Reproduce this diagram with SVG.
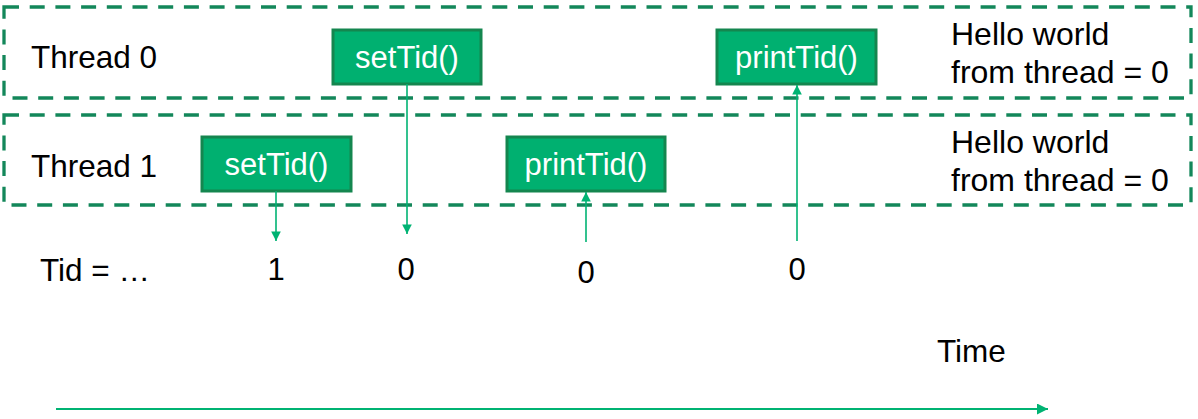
<svg xmlns="http://www.w3.org/2000/svg" width="1198" height="419" viewBox="0 0 1198 419">
<defs>
<style>
.lane{fill:none;stroke:#13875a;stroke-width:3.3;stroke-dasharray:15 10.7}
.box{fill:#00b070;stroke:#14864f;stroke-width:3}
.bt{font-family:"Liberation Sans",Arial,sans-serif;font-size:31px;fill:#ffffff;text-anchor:middle}
.t{font-family:"Liberation Sans",Arial,sans-serif;font-size:31.5px;fill:#000000}
.h{font-family:"Liberation Sans",Arial,sans-serif;font-size:32px;fill:#000000}
.v{font-family:"Liberation Sans",Arial,sans-serif;font-size:31px;fill:#000000;text-anchor:middle}
.c{fill:none;stroke:#00b373;stroke-width:1.6}
</style>
<marker id="ah" viewBox="0 0 10 10" refX="10" refY="5" markerWidth="6" markerHeight="6" markerUnits="strokeWidth" orient="auto">
<path d="M0,0 L10,5 L0,10 z" fill="#00b373"/>
</marker>
<marker id="ah2" viewBox="0 0 10 10" refX="10" refY="5" markerWidth="5" markerHeight="5" markerUnits="strokeWidth" orient="auto">
<path d="M0,0 L10,5 L0,10 z" fill="#00b373"/>
</marker>
</defs>
<g id="lane0">
<rect class="lane" x="4" y="7" width="1187" height="91"/>
<text class="t" x="31" y="68">Thread 0</text>
<text class="h" x="951" y="45">Hello world</text>
<text class="h" x="951" y="83">from thread = 0</text>
</g>
<g id="lane1">
<rect class="lane" x="4" y="115" width="1187" height="90"/>
<text class="t" x="31" y="177">Thread 1</text>
<text class="h" x="951" y="153">Hello world</text>
<text class="h" x="951" y="191">from thread = 0</text>
</g>
<g id="setTid0">
<rect class="box" x="333" y="30" width="148" height="54"/>
<text class="bt" x="407" y="68">setTid()</text>
</g>
<g id="setTid1">
<rect class="box" x="202" y="137" width="149" height="54"/>
<text class="bt" x="276.5" y="175">setTid()</text>
</g>
<g id="printTid1">
<rect class="box" x="507" y="137" width="158" height="54"/>
<text class="bt" x="586" y="175">printTid()</text>
</g>
<g id="printTid0">
<rect class="box" x="717" y="30" width="159" height="54"/>
<text class="bt" x="796.5" y="68">printTid()</text>
</g>
<g id="values">
<text class="t" x="40" y="281">Tid = …</text>
<text class="v" x="276" y="280">1</text>
<text class="v" x="406" y="280">0</text>
<text class="v" x="586" y="283">0</text>
<text class="v" x="797" y="280">0</text>
<text class="t" x="937" y="362">Time</text>
</g>
<g id="connectors">
<line class="c" x1="276" y1="191" x2="276" y2="241" marker-end="url(#ah)"/>
<line class="c" x1="407" y1="84" x2="407" y2="234" marker-end="url(#ah)"/>
<line class="c" x1="586" y1="242" x2="586" y2="192" marker-end="url(#ah)"/>
<line class="c" x1="797" y1="241" x2="797" y2="85" marker-end="url(#ah)"/>
<line class="c" x1="56" y1="409" x2="1048" y2="409" style="stroke-width:2.2" marker-end="url(#ah2)"/>
</g>
</svg>
